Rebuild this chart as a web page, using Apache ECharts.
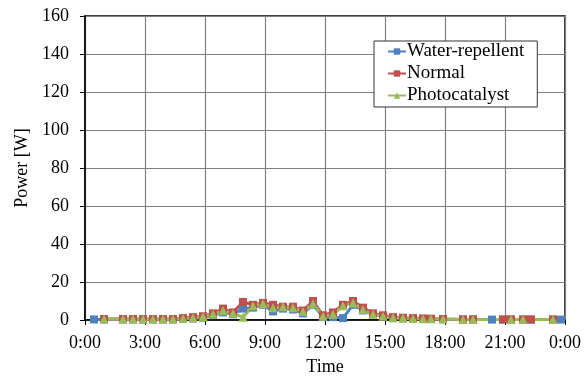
<!DOCTYPE html>
<html><head><meta charset="utf-8">
<script src="https://cdn.jsdelivr.net/npm/echarts@6/dist/echarts.min.js"></script>
<style>html,body{margin:0;padding:0;background:#fff}#c{width:588px;height:376px}</style>
</head><body><div id="c"></div>
<script>
// Times in hours since 0:00
const timesBlue  = [0.45, 0.95, 1.9, 2.4, 2.9, 3.4, 3.9, 4.4, 4.9, 5.4, 5.9, 6.4, 6.9, 7.4, 7.9, 8.4, 8.9, 9.4, 9.9, 10.4, 10.9, 11.4, 11.9, 12.4, 12.9, 13.4, 13.9, 14.4, 14.9, 15.4, 15.9, 16.4, 16.9, 17.3, 17.9, 18.9, 19.4, 20.35, 20.9, 21.3, 21.9, 22.3, 23.4, 23.8];
const blueVals   = [0.3, 0.3, 0.3, 0.3, 0.3, 0.3, 0.3, 0.3, 0.5, 0.8, 1.2, 2.5, 4, 3, 6, 6.5, 8, 4.5, 6, 5.5, 3.5, 8, 1.5, 1.5, 1, 8, 5, 3, 2, 1, 0.8, 0.7, 0.6, 0.5, 0.4, 0.3, 0.3, 0.2, 0.2, 0.2, 0.2, 0.2, 0.2, 0.2];
const timesRed   = [0.95, 1.9, 2.4, 2.9, 3.4, 3.9, 4.4, 4.9, 5.4, 5.9, 6.4, 6.9, 7.4, 7.9, 8.4, 8.9, 9.4, 9.9, 10.4, 10.9, 11.4, 11.9, 12.4, 12.9, 13.4, 13.9, 14.4, 14.9, 15.4, 15.9, 16.4, 16.9, 17.3, 17.9, 18.9, 19.4, 20.9, 21.3, 21.9, 22.3, 23.4];
const redVals    = [0.5, 0.5, 0.5, 0.5, 0.5, 0.5, 0.5, 1, 1.5, 2, 3.5, 6, 4, 9.5, 8, 9, 8, 7, 7, 5, 10, 2.5, 4, 8, 10, 6.5, 3.5, 2.5, 1.5, 1.2, 1, 0.8, 0.7, 0.5, 0.3, 0.3, 0.3, 0.3, 0.3, 0.3, 0.3];
const timesGreen = [0.95, 1.9, 2.4, 2.9, 3.4, 3.9, 4.4, 4.9, 5.4, 5.9, 6.4, 6.9, 7.4, 7.9, 8.4, 8.9, 9.4, 9.9, 10.4, 10.9, 11.4, 11.9, 12.4, 12.9, 13.4, 13.9, 14.4, 14.9, 15.4, 15.9, 16.4, 16.9, 17.3, 17.9, 18.9, 19.4, 21.3, 21.9, 23.4];
const greenVals  = [0.5, 0.5, 0.5, 0.5, 0.5, 0.5, 0.5, 0.8, 1.2, 1.8, 3, 5, 3.5, 1.5, 7.5, 8.5, 6.5, 7, 6.5, 4.5, 8.5, 2, 3, 7.5, 9, 5.5, 3, 2, 1.2, 1, 0.8, 0.7, 0.6, 0.5, 0.3, 0.3, 0.3, 0.3, 0.3];
const seriesNames = ['Water-repellent', 'Normal', 'Photocatalyst'];
const xTicks = [0, 3, 6, 9, 12, 15, 18, 21, 24];

const pairs = (t, v) => t.map((x, i) => [x, v[i]]);
const font = '"Liberation Serif", "Times New Roman", serif';
const FS = 18;
const chart = echarts.init(document.getElementById('c'), null, {renderer: 'canvas'});
chart.setOption({
  animation: false,
  backgroundColor: '#fff',
  textStyle: {fontFamily: font},
  grid: {left: 85, right: 23, top: 16, bottom: 56, show: true, borderColor: '#000', borderWidth: 1.5,
         containLabel: false, outerBoundsMode: 'none'},
  legend: {
    left: 374, top: 41, orient: 'vertical', backgroundColor: '#fff', borderColor: '#333', borderWidth: 1,
    padding: [1, 13, 2, 13], itemGap: 3, itemWidth: 18, itemHeight: 8,
    textStyle: {fontFamily: font, fontSize: 19, color: '#000', padding: [0, 0, 0, -4]},
    data: seriesNames
  },
  xAxis: {
    type: 'value', min: 0, max: 24, interval: 3,
    name: 'Time', nameLocation: 'middle', nameGap: 38,
    nameTextStyle: {fontFamily: font, fontSize: FS, color: '#000'},
    axisLine: {show: true, lineStyle: {color: '#000', width: 1.5}},
    axisTick: {show: true, length: 5, inside: false, lineStyle: {color: '#000'}},
    axisLabel: {fontFamily: font, fontSize: FS, color: '#000', margin: 14,
      formatter: v => xTicks.includes(v) ? (v % 24) + ':00' : ''},
    splitLine: {show: true, lineStyle: {color: '#808080', width: 1.2}}
  },
  yAxis: {
    type: 'value', min: 0, max: 160, interval: 20,
    name: 'Power [W]', nameLocation: 'middle', nameGap: 54,
    nameTextStyle: {fontFamily: font, fontSize: FS, color: '#000'},
    axisLine: {show: true, lineStyle: {color: '#000', width: 1.5}},
    axisTick: {show: true, length: 5, inside: false, lineStyle: {color: '#000'}},
    axisLabel: {fontFamily: font, fontSize: FS, color: '#000', margin: 16},
    splitLine: {show: true, lineStyle: {color: '#808080', width: 1.2}}
  },
  series: [
    {name: seriesNames[0], type: 'line', data: pairs(timesBlue, blueVals), symbol: 'rect', symbolSize: 8,
     itemStyle: {color: '#4F81BD'}, lineStyle: {color: '#4F81BD', width: 3}},
    {name: seriesNames[1], type: 'line', data: pairs(timesRed, redVals), symbol: 'rect', symbolSize: 8,
     itemStyle: {color: '#C0504D'}, lineStyle: {color: '#C0504D', width: 3}},
    {name: seriesNames[2], type: 'line', data: pairs(timesGreen, greenVals), symbol: 'triangle', symbolSize: 9,
     itemStyle: {color: '#9BBB59'}, lineStyle: {color: '#9BBB59', width: 3}}
  ]
});
</script></body></html>
